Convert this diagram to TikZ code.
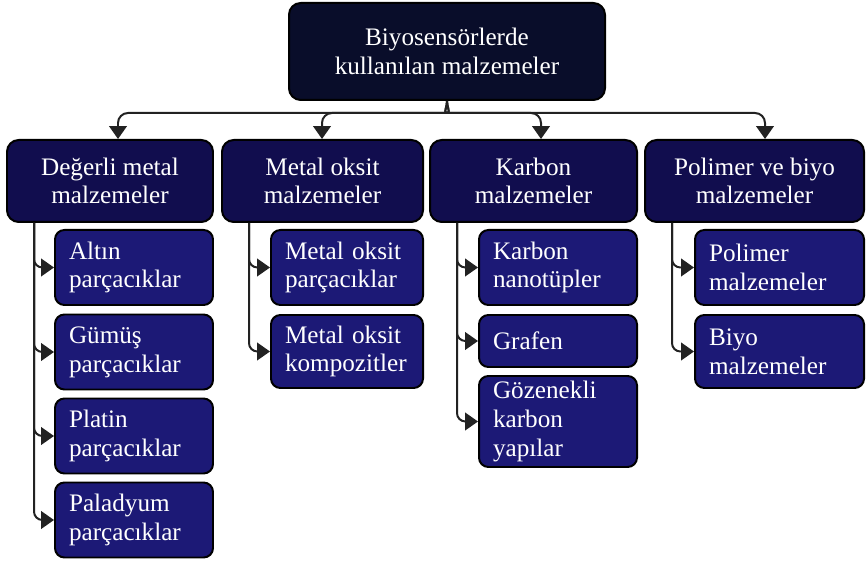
\documentclass[tikz,border=0pt]{standalone}
\usepackage{fontspec}
\setmainfont{Liberation Serif}
\usetikzlibrary{arrows.meta, positioning, calc}
\definecolor{rootNavy}{RGB}{9,13,42}
\definecolor{groupNavy}{RGB}{17,13,78}
\definecolor{itemNavy}{RGB}{28,25,118}
\definecolor{linkGray}{RGB}{34,34,34}

\tikzset{
  box/.style={draw=black, line width=1.7pt, rounded corners=10pt, text=white, inner sep=0pt,
    font=\fontsize{21.5}{24.5}\selectfont},
  rootbox/.style={box, fill=rootNavy, align=center},
  groupbox/.style={box, fill=groupNavy, align=center, minimum height=2.46cm},
  itembox/.style={box, fill=itemNavy, rounded corners=8pt, inner xsep=0.42cm, align=left, minimum height=2.25cm},
  link/.style={draw=linkGray, line width=1.7pt, rounded corners=0.3cm, -{Triangle[length=11pt,width=15pt]}},
}

\begin{document}
\begin{tikzpicture}
				\useasboundingbox (0,0) rectangle (26.01,16.83);
				% Root
				\node[rootbox, minimum width=9.48cm, minimum height=2.91cm] (root) at (13.41,15.285) {Biyosensörlerde\\kullanılan malzemeler};
				% Material groups
				\node[groupbox, minimum width=6.18cm] (metal) at (3.30,11.4) {Değerli metal\\malzemeler};
				\node[groupbox, minimum width=6.03cm] (oxide) at (9.675,11.4) {Metal oksit\\malzemeler};
				\node[groupbox, minimum width=6.21cm] (carbon) at (16.005,11.4) {Karbon\\malzemeler};
				\node[groupbox, minimum width=6.57cm] (polymer) at (22.635,11.4) {Polimer ve biyo\\malzemeler};
				% Noble metals
				\node[itembox, text width=3.9cm] (gold) at (4.02,8.805) {Altın\\parçacıklar};
				\node[itembox, text width=3.9cm] (silver) at (4.02,6.27) {Gümüş\\parçacıklar};
				\node[itembox, text width=3.9cm] (platinum) at (4.02,3.75) {Platin\\parçacıklar};
				\node[itembox, text width=3.9cm] (palladium) at (4.02,1.23) {Paladyum\\parçacıklar};
				% Metal oxides
				\node[itembox, text width=3.72cm] (oxidepart) at (10.41,8.805) {Metal oksit\\parçacıklar};
				\node[itembox, text width=3.72cm, minimum height=2.19cm] (oxidecomp) at (10.41,6.285) {Metal oksit\\kompozitler};
				% Carbon
				\node[itembox, text width=3.9cm] (nanotube) at (16.74,8.805) {Karbon\\nanotüpler};
				\node[itembox, text width=3.9cm, minimum height=1.56cm] (graphene) at (16.74,6.6) {Grafen};
				\node[itembox, text width=3.9cm, minimum height=2.73cm] (porous) at (16.74,4.185) {Gözenekli\\karbon\\yapılar};
				% Polymer and bio
				\node[itembox, text width=4.23cm] (polymat) at (23.385,8.805) {Polimer\\malzemeler};
				\node[itembox, text width=4.23cm, minimum height=2.19cm] (biomat) at (23.385,6.285) {Biyo\\malzemeler};
				% Root to groups
				\draw[link] (root.south) to[out=-90,in=0] ++(-0.3,-0.36) -| ([xshift=0.24cm]metal.north);
				\draw[link] (root.south) to[out=-90,in=0] ++(-0.3,-0.36) -| ([xshift=-0.015cm]oxide.north);
				\draw[link] (root.south) to[out=-90,in=180] ++(0.3,-0.36) -| ([xshift=0.225cm]carbon.north);
				\draw[link] (root.south) to[out=-90,in=180] ++(0.3,-0.36) -| ([xshift=0.315cm]polymer.north);
				% Groups to items
				\foreach \kid in {gold,silver,platinum,palladium}
					\draw[link, rounded corners=0.25cm] ([xshift=0.84cm]metal.south west) |- (\kid.west);
				\foreach \kid in {oxidepart,oxidecomp}
					\draw[link, rounded corners=0.25cm] ([xshift=0.84cm]oxide.south west) |- (\kid.west);
				\foreach \kid in {nanotube,graphene,porous}
					\draw[link, rounded corners=0.25cm] ([xshift=0.84cm]carbon.south west) |- (\kid.west);
				\foreach \kid in {polymat,biomat}
					\draw[link, rounded corners=0.25cm] ([xshift=0.84cm]polymer.south west) |- (\kid.west);
\end{tikzpicture}
\end{document}
